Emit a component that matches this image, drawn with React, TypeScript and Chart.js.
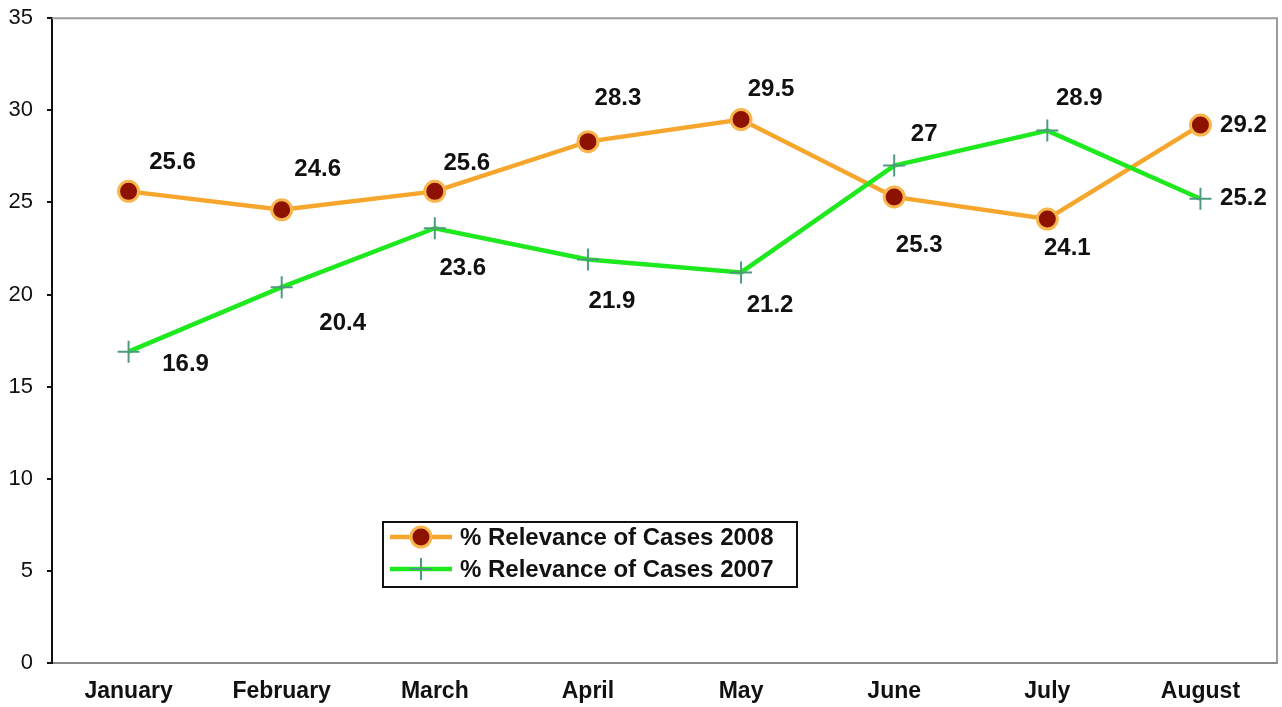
import React, { useEffect, useRef } from "react";
import { Chart, registerables } from "chart.js";

Chart.register(...registerables);

const categories = ["January", "February", "March", "April", "May", "June", "July", "August"];
const cases2008 = [25.6, 24.6, 25.6, 28.3, 29.5, 25.3, 24.1, 29.2];
const cases2007 = [16.9, 20.4, 23.6, 21.9, 21.2, 27, 28.9, 25.2];
const seriesNames = ["% Relevance of Cases 2008", "% Relevance of Cases 2007"];
const yTicks = [0, 5, 10, 15, 20, 25, 30, 35];

// label placement style (pixel offsets of each value label from its point)
const labelOffsets2008 = [[44, -29], [36, -40], [32, -28], [30, -43], [30, -30], [25, 48], [20, 29], [43, 0]];
const labelOffsets2007 = [[57, 13], [61, 36], [28, 40], [24, 42], [29, 33], [30, -31], [32, -32], [43, 0]];

const FONT = "'Liberation Sans', Arial, sans-serif";
const ORANGE = "#F6A62C";
const GREEN = "#1EE81E";
const SHIFT = 9; // canvas shifted up so the plot top sits where the reference has it

export default function App() {
  const ref = useRef<HTMLCanvasElement | null>(null);

  useEffect(() => {
    if (!ref.current) return;

    const framePlugin = {
      id: "frame",
      beforeDatasetsDraw(chart: any) {
        const { ctx, chartArea: a } = chart;
        ctx.save();
        ctx.strokeStyle = "#9c9c9c";
        ctx.lineWidth = 2;
        ctx.beginPath();
        ctx.moveTo(a.left, a.top);
        ctx.lineTo(a.right, a.top);
        ctx.lineTo(a.right, a.bottom);
        ctx.stroke();
        ctx.restore();
      },
    };

    const labelPlugin = {
      id: "valueLabels",
      afterDatasetsDraw(chart: any) {
        const { ctx } = chart;
        ctx.save();
        ctx.font = `bold 24px ${FONT}`;
        ctx.fillStyle = "#111";
        ctx.textAlign = "center";
        ctx.textBaseline = "middle";
        chart.data.datasets.forEach((ds: any, di: number) => {
          const meta = chart.getDatasetMeta(di);
          const offs = ds.labelOffsets as number[][];
          meta.data.forEach((pt: any, i: number) => {
            const v = ds.data[i];
            ctx.fillText(String(v), pt.x + offs[i][0], pt.y + offs[i][1]);
          });
        });
        ctx.restore();
      },
    };

    const legendPlugin = {
      id: "boxLegend",
      afterDraw(chart: any) {
        const { ctx } = chart;
        const x0 = 383, y0 = 522 + SHIFT, w = 414, h = 65;
        ctx.save();
        ctx.fillStyle = "#fff";
        ctx.fillRect(x0, y0, w, h);
        ctx.strokeStyle = "#111";
        ctx.lineWidth = 2;
        ctx.strokeRect(x0, y0, w, h);
        const order = [1, 0]; // dataset index for 2008, 2007
        order.forEach((di, row) => {
          const ds = chart.data.datasets[di];
          const y = y0 + 15 + row * 32;
          ctx.strokeStyle = ds.borderColor;
          ctx.lineWidth = ds.borderWidth;
          ctx.beginPath();
          ctx.moveTo(390, y);
          ctx.lineTo(452, y);
          ctx.stroke();
          if (ds.pointStyle === "circle") {
            ctx.beginPath();
            ctx.arc(421, y, ds.pointRadius, 0, Math.PI * 2);
            ctx.fillStyle = ds.pointBackgroundColor;
            ctx.fill();
            ctx.lineWidth = ds.pointBorderWidth;
            ctx.strokeStyle = ds.pointBorderColor;
            ctx.stroke();
          } else {
            const r = ds.pointRadius;
            ctx.lineWidth = ds.pointBorderWidth;
            ctx.strokeStyle = ds.pointBorderColor;
            ctx.beginPath();
            ctx.moveTo(421 - r, y);
            ctx.lineTo(421 + r, y);
            ctx.moveTo(421, y - r);
            ctx.lineTo(421, y + r);
            ctx.stroke();
          }
          ctx.fillStyle = "#111";
          ctx.font = `bold 24px ${FONT}`;
          ctx.textAlign = "left";
          ctx.textBaseline = "middle";
          ctx.fillText(ds.label, 460, y + 1);
        });
        ctx.restore();
      },
    };

    const chart = new Chart(ref.current, {
      type: "line",
      data: {
        labels: categories,
        datasets: [
          {
            label: seriesNames[1],
            data: cases2007,
            borderColor: GREEN,
            borderWidth: 4.5,
            pointStyle: "cross",
            pointRadius: 11,
            pointBorderWidth: 2,
            pointBorderColor: "#4E9A80",
            pointBackgroundColor: "#4E9A80",
            tension: 0,
            order: 1,
            labelOffsets: labelOffsets2007,
          } as any,
          {
            label: seriesNames[0],
            data: cases2008,
            borderColor: ORANGE,
            borderWidth: 4.5,
            pointStyle: "circle",
            pointRadius: 10,
            pointBorderWidth: 3,
            pointBorderColor: "#F9B64C",
            pointBackgroundColor: "#8E1200",
            tension: 0,
            order: 2,
            labelOffsets: labelOffsets2008,
          } as any,
        ],
      },
      options: {
        responsive: false,
        animation: false,
        layout: { autoPadding: false, padding: { left: 0, right: 5, top: 8, bottom: 0 } },
        plugins: {
          legend: { display: false },
          tooltip: { enabled: false },
        },
        scales: {
          x: {
            offset: true,
            grid: { display: false, drawTicks: false, tickLength: 0 },
            border: { display: true, color: "#8a8a8a", width: 2 },
            ticks: {
              color: "#111",
              font: { family: FONT, size: 23, weight: "bold" },
              padding: 15,
              maxRotation: 0,
              autoSkip: false,
            },
            afterFit(scale: any) {
              scale.height = 44;
            },
          },
          y: {
            min: 0,
            max: 35,
            afterBuildTicks(scale: any) {
              scale.ticks = yTicks.map((v) => ({ value: v }));
            },
            grid: { drawOnChartArea: false, drawTicks: true, tickLength: 5, color: "#111", lineWidth: 2 },
            border: { display: true, color: "#111", width: 2 },
            ticks: {
              color: "#111",
              font: { family: FONT, size: 22 },
              padding: 14,
            },
            afterFit(scale: any) {
              scale.width = 52;
            },
          },
        },
      },
      plugins: [framePlugin, labelPlugin, legendPlugin],
    });

    return () => chart.destroy();
  }, []);

  return (
    <div style={{ position: "fixed", left: 0, top: 0, width: 1282, height: 707, overflow: "hidden", background: "#fff" }}>
      <canvas
        ref={ref}
        width={1282}
        height={707 + SHIFT}
        style={{ position: "absolute", left: 0, top: -SHIFT }}
      />
    </div>
  );
}
